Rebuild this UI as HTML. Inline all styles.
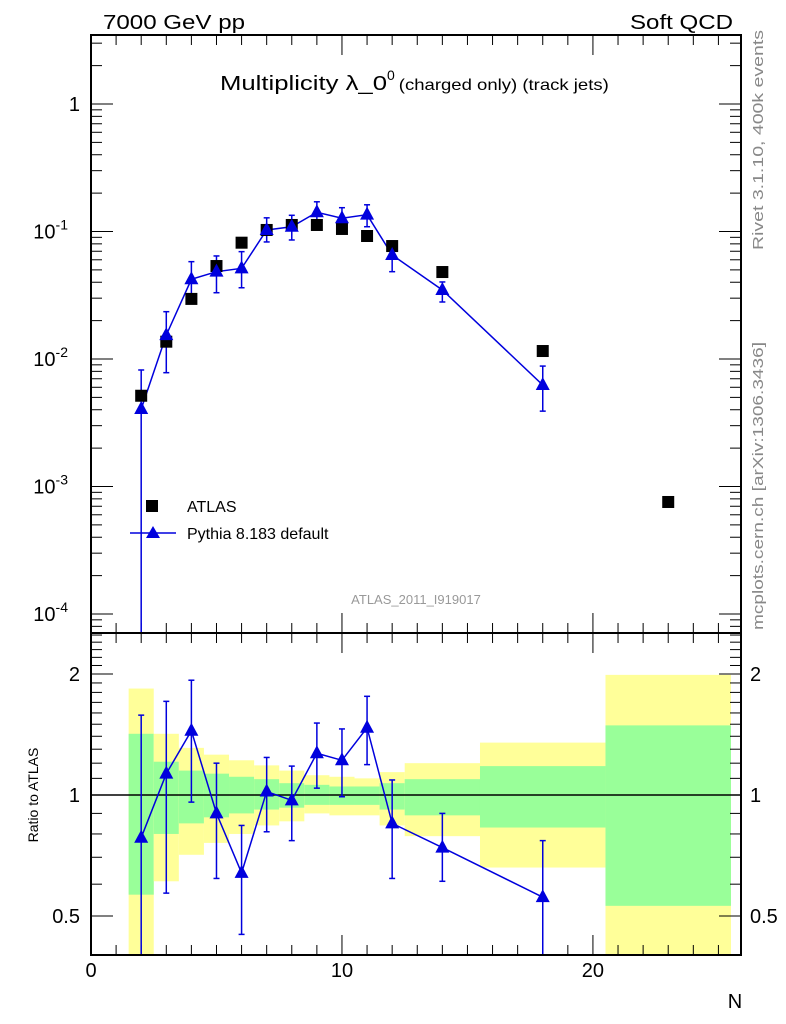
<!DOCTYPE html>
<html><head><meta charset="utf-8"><style>
html,body{margin:0;padding:0;background:#fff;}
svg{display:block;font-family:"Liberation Sans",sans-serif;}
</style></head><body>
<svg id="c" width="786" height="1024" viewBox="0 0 786 1024">
<g id="bands"></g>
<g id="ticks"></g>
<g id="series"></g>
<rect x="91" y="35" width="650" height="598" fill="none" stroke="#000" stroke-width="2"/>
<rect x="91" y="633" width="650" height="322" fill="none" stroke="#000" stroke-width="2"/>
<text x="103" y="29" font-size="20" textLength="142" lengthAdjust="spacingAndGlyphs">7000 GeV pp</text>
<text x="733" y="29" font-size="20" text-anchor="end" textLength="103" lengthAdjust="spacingAndGlyphs">Soft QCD</text>
<text x="220" y="90" font-size="20"><tspan textLength="167" lengthAdjust="spacingAndGlyphs">Multiplicity λ_0</tspan><tspan font-size="14" dy="-10">0</tspan><tspan font-size="16" dy="10" dx="4" textLength="210" lengthAdjust="spacingAndGlyphs">(charged only) (track jets)</tspan></text>
<text transform="translate(763,250) rotate(-90)" font-size="15" fill="#888" textLength="220" lengthAdjust="spacingAndGlyphs">Rivet 3.1.10,  400k events</text>
<text transform="translate(763,630) rotate(-90)" font-size="15" fill="#888" textLength="288" lengthAdjust="spacingAndGlyphs">mcplots.cern.ch [arXiv:1306.3436]</text>
<text x="416" y="604" font-size="13" fill="#999" text-anchor="middle">ATLAS_2011_I919017</text>
<text transform="translate(38,795) rotate(-90)" font-size="14" text-anchor="middle">Ratio to ATLAS</text>
<text x="735" y="1008" font-size="20" text-anchor="middle">N</text>
<g>
<rect x="146" y="500" width="12" height="12" fill="#000"/>
<text x="187" y="512" font-size="16">ATLAS</text>
<line x1="130" y1="533" x2="176" y2="533" stroke="#0000dd" stroke-width="1.5"/>
<polygon points="153,526 160,538 146,538" fill="#0000dd"/>
<text x="187" y="539" font-size="16">Pythia 8.183 default</text>
</g>
</svg>
<script>
const xs = [2,3,4,5,6,7,8,9,10,11,12,14,18];
const atlasX = [2,3,4,5,6,7,8,9,10,11,12,14,18,23];
const atlasY = [0.00515,0.01367,0.0296,0.0536,0.0817,0.1028,0.1125,0.1125,0.1047,0.0922,0.0769,0.0481,0.01155,0.000756];
const pyY = [0.00405,0.0154,0.0422,0.0484,0.0514,0.1028,0.109,0.1415,0.127,0.1355,0.0654,0.0348,0.00625];
const pyUp = [0.0082,0.0235,0.058,0.0643,0.0695,0.128,0.134,0.171,0.1537,0.162,0.0842,0.0402,0.0088];
const pyDn = [0.00001,0.00781,0.029,0.0331,0.0362,0.0828,0.0858,0.1188,0.104,0.109,0.0484,0.028,0.0039];
const ratio = [0.783,1.13,1.445,0.90,0.64,1.02,0.97,1.27,1.22,1.47,0.85,0.74,0.557];
const ratioUp = [1.58,1.71,1.93,1.20,0.84,1.24,1.18,1.51,1.46,1.76,1.09,0.90,0.77];
const ratioDn = [0.3,0.57,0.96,0.62,0.45,0.81,0.77,1.04,0.99,1.19,0.62,0.61,0.3];
const binLo = [1.5,2.5,3.5,4.5,5.5,6.5,7.5,8.5,9.5,10.5,11.5,12.5,15.5,20.5];
const binHi = [2.5,3.5,4.5,5.5,6.5,7.5,8.5,9.5,10.5,11.5,12.5,15.5,20.5,25.5];
const yelHi = [1.84,1.42,1.31,1.26,1.22,1.185,1.15,1.12,1.11,1.10,1.14,1.20,1.35,1.99];
const grnHi = [1.42,1.21,1.15,1.13,1.11,1.095,1.07,1.06,1.05,1.05,1.07,1.095,1.18,1.49];
const grnLo = [0.565,0.80,0.85,0.88,0.90,0.92,0.93,0.945,0.945,0.945,0.92,0.89,0.83,0.53];
const yelLo = [0.3,0.61,0.71,0.76,0.80,0.84,0.86,0.90,0.89,0.89,0.84,0.79,0.66,0.3];
const xTicks = [0,10,20];
const mainTicks = [1,0.1,0.01,0.001,0.0001];
const mainTickLabels = ["1","10|-1","10|-2","10|-3","10|-4"];
const ratioTicks = [2,1,0.5];
const ratioTickLabels = ["2","1","0.5"];

const NS="http://www.w3.org/2000/svg";
const X0=91,X1=741,XMAX=25.9;
const sx=v=>X0+v*(X1-X0)/XMAX;
const MT=35,MB=633,RT=633,RB=955;
const sy=v=>104-127.5*Math.log10(v);
const sr=v=>795-121*Math.log2(v);
const clampM=y=>Math.min(Math.max(y,MT),MB);
const clampR=y=>Math.min(Math.max(y,RT),RB);
function mk(tag,attrs,parent){const e=document.createElementNS(NS,tag);for(const k in attrs)e.setAttribute(k,attrs[k]);parent.appendChild(e);return e;}
const B=document.getElementById('bands'),T=document.getElementById('ticks'),S=document.getElementById('series');

// bands
for(let i=0;i<binLo.length;i++){
  const x=sx(binLo[i]),w=sx(binHi[i])-x;
  let y1=clampR(sr(yelHi[i])),y2=clampR(sr(yelLo[i]));
  const yb=mk('rect',{x:x,y:y1,width:w,height:y2-y1,fill:'#ffff99'},B);
  
  
  y1=clampR(sr(grnHi[i]));y2=clampR(sr(grnLo[i]));
  const gb=mk('rect',{x:x,y:y1,width:w,height:y2-y1,fill:'#99ff99'},B);
  
  
}
const ref=mk('line',{x1:X0,x2:X1,y1:sr(1),y2:sr(1),stroke:'#000','stroke-width':1.5},B);



// x ticks
const tk=(x1,y1,x2,y2)=>mk('line',{x1,y1,x2,y2,stroke:'#000','stroke-width':1},T);
for(let v=0;v<=25;v++){
  const x=sx(v),L=(v%10===0)?20:10;
  tk(x,MT,x,MT+L);tk(x,MB,x,MB-L);tk(x,RT,x,RT+L);tk(x,RB,x,RB-L);
}
xTicks.forEach(v=>{
  const t=mk('text',{x:sx(v),y:977,'font-size':20,'text-anchor':'middle'},T);
  t.textContent=v;
  
  
});
// main y ticks
for(let e=-5;e<=0;e++){for(let m=1;m<=9;m++){
  const v=m*Math.pow(10,e),y=sy(v);if(y<MT||y>MB)continue;
  const L=m===1?22:11;tk(X0,y,X0+L,y);tk(X1,y,X1-L,y);
}}
mainTicks.forEach((v,i)=>{
  const parts=mainTickLabels[i].split('|');
  const t=mk('text',{x:parts[1]?68:80,y:sy(v)+7,'font-size':20,'text-anchor':'end'},T);
  
  
  const a=mk('tspan',{},t);a.textContent=parts[0];
  if(parts[1]){const b=mk('tspan',{'font-size':14,dy:-9},t);b.textContent=parts[1];}
});
// ratio y ticks
for(let v=0.4;v<=2.55;v+=0.1){
  const y=sr(v);if(y<RT||y>RB)continue;
  const major=Math.abs(v-1)<1e-6||Math.abs(v-2)<1e-6||Math.abs(v-0.5)<1e-6;
  const L=major?22:11;tk(X0,y,X0+L,y);tk(X1,y,X1-L,y);
}
ratioTicks.forEach((v,i)=>{
  const t=mk('text',{x:80,y:sr(v)+7,'font-size':20,'text-anchor':'end'},T);
  t.textContent=ratioTickLabels[i];
  
  
  const t2=mk('text',{x:750,y:sr(v)+7,'font-size':20},T);
  t2.textContent=ratioTickLabels[i];
  
  
});

// series helpers
const blue='#0000dd';
function tri(x,y,name){
  const p=mk('polygon',{points:`${x},${y-8} ${x+7},${y+5} ${x-7},${y+5}`,fill:blue},S);
  
  
}
function errbar(x,yu,yd,capU,capD,name){
  const l=mk('line',{x1:x,x2:x,y1:yu,y2:yd,stroke:blue,'stroke-width':1.5},S);
  
  
  if(capU)mk('line',{x1:x-3,x2:x+3,y1:yu,y2:yu,stroke:blue,'stroke-width':1.5},S);
  if(capD)mk('line',{x1:x-3,x2:x+3,y1:yd,y2:yd,stroke:blue,'stroke-width':1.5},S);
}
// main panel
const pyLine=mk('polyline',{points:xs.map((v,i)=>sx(v)+','+sy(pyY[i])).join(' '),fill:'none',stroke:blue,'stroke-width':1.5},S);


xs.forEach((v,i)=>{
  const yu=sy(pyUp[i]),ydr=sy(pyDn[i]),yd=clampM(ydr);
  errbar(sx(v),yu,yd,true,ydr<=MB,'pythia-error-bar');
});
atlasX.forEach((v,i)=>{
  const r=mk('rect',{x:sx(v)-6,y:sy(atlasY[i])-6,width:12,height:12,fill:'#000'},S);
  
  
});
xs.forEach((v,i)=>tri(sx(v),sy(pyY[i]),'pythia-point'));
// ratio panel
const rLine=mk('polyline',{points:xs.map((v,i)=>sx(v)+','+sr(ratio[i])).join(' '),fill:'none',stroke:blue,'stroke-width':1.5},S);


xs.forEach((v,i)=>{
  const ydr=sr(ratioDn[i]);
  errbar(sx(v),sr(ratioUp[i]),clampR(ydr),true,ydr<=RB,'ratio-error-bar');
  tri(sx(v),sr(ratio[i]),'ratio-point');
});
</script>
</body></html>
